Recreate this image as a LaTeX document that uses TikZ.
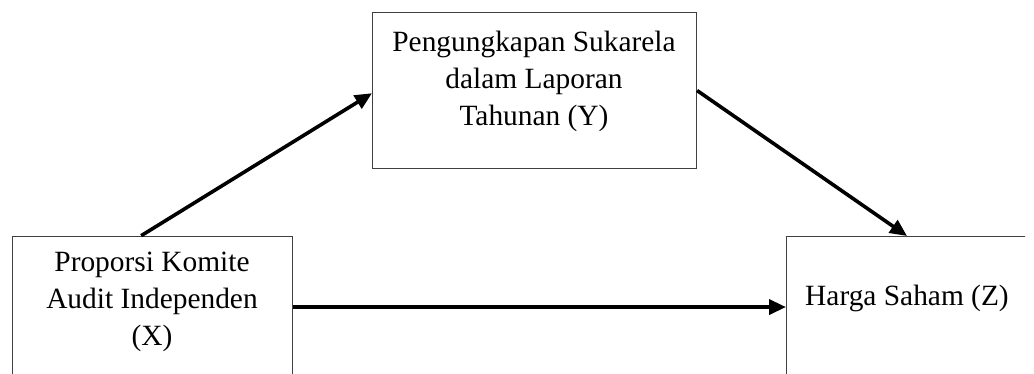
\documentclass[tikz,border=0pt]{standalone}
\usepackage{fontspec}
\setmainfont{Liberation Serif}
\usetikzlibrary{arrows.meta,calc}
\begin{document}
\begin{tikzpicture}[x=1pt,y=-1pt,
  box/.style={draw=black!75,line width=1.1pt,rectangle,inner sep=0pt,anchor=north west},
  lbl/.style={align=center,font=\fontsize{29.4}{37}\selectfont,inner sep=0pt},
  arr/.style={line width=3.6pt,-{Triangle[length=17pt,width=15pt]}}]
\useasboundingbox (0,0) rectangle (1034,374);
\clip (0,0) rectangle (1025,374);
\node[box,minimum width=280.3pt,minimum height=170pt] (X) at (11.7,235.7) {};
\node[box,minimum width=324pt,minimum height=156pt] (Y) at (372,12) {};
\node[box,minimum width=300pt,minimum height=170pt] (Z) at (786,236) {};
\node[lbl] (tx) at (152,302) {Proporsi Komite\\Audit Independen\\(X)};
\node[lbl] (ty) at (534,81) {Pengungkapan Sukarela\\dalam Laporan\\Tahunan (Y)};
\node[lbl] (tz) at (907,298) {Harga Saham (Z)};
\coordinate (a1) at ($(X.north west)!0.46!(X.north east)$);
\coordinate (b1) at ($(Y.north west)!0.517!(Y.south west)$);
\coordinate (a2) at ($(Y.north east)!0.5!(Y.south east)$);
\coordinate (b2) at ($(Z.north west)!0.402!(Z.north east)$);
\coordinate (a3) at ($(X.north east)!0.417!(X.south east)$);
\draw[arr] (a1) -- (b1);
\draw[arr] (a2) -- (b2);
\draw[arr] (a3) -- (a3 -| Z.west);
\end{tikzpicture}
\end{document}
